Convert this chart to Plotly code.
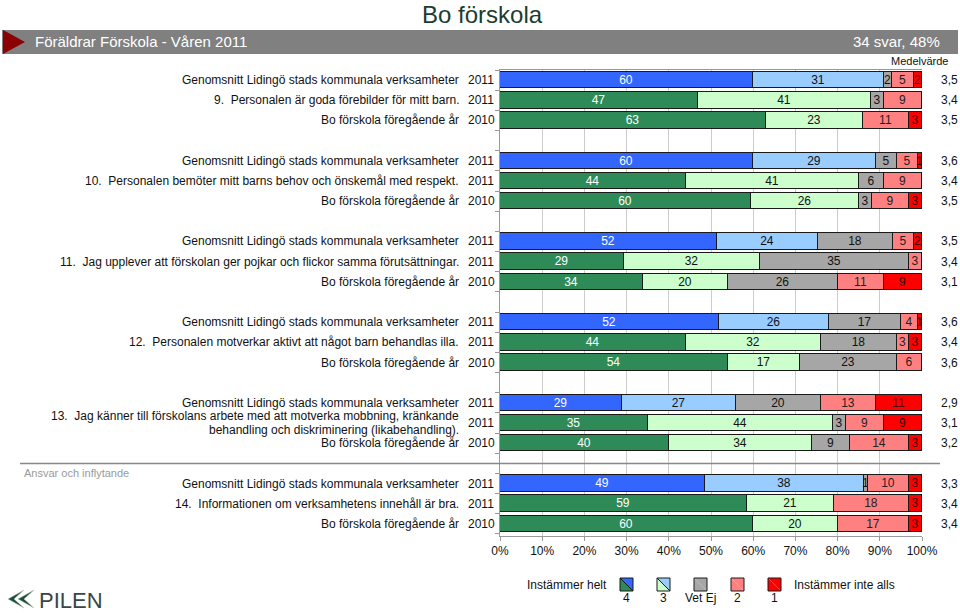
import plotly.graph_objects as go

# ---------------- data ----------------
questions = [
    "9.  Personalen är goda förebilder för mitt barn.",
    "10.  Personalen bemöter mitt barns behov och önskemål med respekt.",
    "11.  Jag upplever att förskolan ger pojkar och flickor samma förutsättningar.",
    "12.  Personalen motverkar aktivt att något barn behandlas illa.",
    "13.  Jag känner till förskolans arbete med att motverka mobbning, kränkande<br>behandling och diskriminering (likabehandling).",
    "14.  Informationen om verksamhetens innehåll är bra.",
]
label_avg = "Genomsnitt Lidingö stads kommunala verksamheter"
label_prev = "Bo förskola föregående år"
years = ["2011", "2011", "2010"]

# rows: per question -> [Genomsnitt 2011, question 2011, föregående år 2010]
s4 = [60, 47, 63, 60, 44, 60, 52, 29, 34, 52, 44, 54, 29, 35, 40, 49, 59, 60]
s3 = [31, 41, 23, 29, 41, 26, 24, 32, 20, 26, 32, 17, 27, 44, 34, 38, 21, 20]
vet = [2, 3, 0, 5, 6, 3, 18, 35, 26, 17, 18, 23, 20, 3, 9, 1, 0, 0]
s2 = [5, 9, 11, 5, 9, 9, 5, 3, 11, 4, 3, 6, 13, 9, 14, 10, 18, 17]
s1 = [2, 0, 3, 1, 0, 3, 2, 0, 9, 1, 3, 0, 11, 9, 3, 3, 3, 3]
means = ["3,5", "3,4", "3,5", "3,6", "3,4", "3,5", "3,5", "3,4", "3,1",
         "3,6", "3,4", "3,6", "2,9", "3,1", "3,2", "3,3", "3,4", "3,4"]

title_text = "Bo förskola"
banner_left = "Föräldrar Förskola - Våren 2011"
banner_right = "34 svar, 48%"
section_text = "Ansvar och inflytande"
legend_labels = ["4", "3", "Vet Ej", "2", "1"]

# ---------------- layout helpers ----------------
W, H = 960, 613
L, R, T, B = 500, 38, 70, 77
PW, PH = W - L - R, H - T - B
FONT = "Liberation Sans, Arial, sans-serif"


def px(x):
    return (x - L) / PW


def py(y):
    return (H - B - y) / PH


ypos = [g * 4 + r for g in range(len(questions)) for r in range(3)]
is_avg = [r == 0 for g in range(len(questions)) for r in range(3)]

BLUE, LBLUE = "#3366ff", "#99ccff"
GREEN, LGREEN = "#2e8b57", "#ccffcc"
GREY, PINK, RED = "#a6a6a6", "#ff8080", "#ff0000"

series = [
    (s4, [BLUE if a else GREEN for a in is_avg], "white"),
    (s3, [LBLUE if a else LGREEN for a in is_avg], "#111111"),
    (vet, [GREY] * len(vet), "#111111"),
    (s2, [PINK] * len(s2), "#222222"),
    (s1, [RED] * len(s1), "#330000"),
]

fig = go.Figure()
for vals, cols, tc in series:
    fig.add_bar(
        x=vals, y=ypos, orientation="h", width=0.82,
        marker=dict(color=cols, line=dict(color="#1a1a1a", width=1)),
        text=[str(v) if v else "" for v in vals],
        textposition="inside", insidetextanchor="middle", textangle=0,
        textfont=dict(color=tc, size=12, family=FONT),
        hoverinfo="skip", showlegend=False,
    )

ann = []
shapes = []

# row labels
for g, q in enumerate(questions):
    for r in range(3):
        y = g * 4 + r
        lab = label_avg if r == 0 else (q if r == 1 else label_prev)
        parts = lab.split("<br>")
        if len(parts) == 1:
            ann.append(dict(x=px(461), y=y, xref="paper", yref="y", text=lab,
                            xanchor="right", yanchor="middle", showarrow=False,
                            align="right", font=dict(size=12, color="#111")))
        else:
            for k, part in enumerate(parts):
                ann.append(dict(x=px(461), y=y + (-0.36 if k == 0 else 0.37), xref="paper",
                                yref="y", text=part, xanchor="right", yanchor="middle",
                                showarrow=False, font=dict(size=12, color="#111")))
        ann.append(dict(x=px(466), y=y, xref="paper", yref="y", text=years[r],
                        xanchor="left", yanchor="middle", showarrow=False,
                        font=dict(size=12, color="#111")))
        ann.append(dict(x=px(949), y=y, xref="paper", yref="y", text=means[g * 3 + r],
                        xanchor="center", yanchor="middle", showarrow=False,
                        font=dict(size=12, color="#111")))

# header
shapes.append(dict(type="rect", xref="paper", yref="paper", x0=px(2), x1=px(958),
                   y0=py(54), y1=py(30), fillcolor="#808080", line=dict(width=0)))
shapes.append(dict(type="path", xref="paper", yref="paper",
                   path=f"M {px(3)} {py(30)} L {px(3)} {py(54)} L {px(25)} {py(42)} Z",
                   fillcolor="#8b0000", line=dict(width=0)))
ann.append(dict(x=px(482), y=py(15), xref="paper", yref="paper", text=title_text,
                showarrow=False, xanchor="center", yanchor="middle",
                font=dict(size=24, color="#1a3d30")))
ann.append(dict(x=px(33), y=py(42), xref="paper", yref="paper", text=banner_left,
                showarrow=False, xanchor="left", yanchor="middle",
                font=dict(size=15, color="white")))
ann.append(dict(x=px(942), y=py(42), xref="paper", yref="paper", text=banner_right,
                showarrow=False, xanchor="right", yanchor="middle",
                font=dict(size=15, color="white")))
ann.append(dict(x=px(919), y=py(61), xref="paper", yref="paper", text="Medelvärde",
                showarrow=False, xanchor="center", yanchor="middle",
                font=dict(size=11, color="#111")))

# section separator
shapes.append(dict(type="line", xref="paper", yref="y", x0=px(20), x1=px(940),
                   y0=19, y1=19, line=dict(color="#888888", width=1.5)))
ann.append(dict(x=px(22), y=py(473), xref="paper", yref="paper", text=section_text,
                showarrow=False, xanchor="left", yanchor="middle",
                font=dict(size=11, color="#9a9a9a")))

# legend
ann.append(dict(x=px(609), y=py(585), xref="paper", yref="paper", text="Instämmer helt",
                showarrow=False, xanchor="right", yanchor="middle",
                font=dict(size=12, color="#111")))
ann.append(dict(x=px(792), y=py(585), xref="paper", yref="paper", text="Instämmer inte alls",
                showarrow=False, xanchor="left", yanchor="middle",
                font=dict(size=12, color="#111")))
icon_x = [620, 657, 694, 731, 768]
icon_cols = [(BLUE, GREEN), (LBLUE, LGREEN), (GREY, GREY), (PINK, PINK), (RED, RED)]
for x0, (cu, cl), lab in zip(icon_x, icon_cols, legend_labels):
    x1 = x0 + 13
    y0, y1 = 578, 591
    shapes.append(dict(type="path", xref="paper", yref="paper",
                       path=f"M {px(x0)} {py(y0)} L {px(x1)} {py(y0)} L {px(x1)} {py(y1)} Z",
                       fillcolor=cu, line=dict(width=0)))
    shapes.append(dict(type="path", xref="paper", yref="paper",
                       path=f"M {px(x0)} {py(y0)} L {px(x0)} {py(y1)} L {px(x1)} {py(y1)} Z",
                       fillcolor=cl, line=dict(width=0)))
    if cu != cl:
        shapes.append(dict(type="line", xref="paper", yref="paper",
                           x0=px(x0), y0=py(y0), x1=px(x1), y1=py(y1),
                           line=dict(color="#1a1a1a", width=1)))
    shapes.append(dict(type="rect", xref="paper", yref="paper",
                       x0=px(x0), x1=px(x1), y0=py(y1), y1=py(y0),
                       line=dict(color="#1a1a1a", width=1)))
    ann.append(dict(x=px(x0 + 6.5), y=py(598), xref="paper", yref="paper", text=lab,
                    showarrow=False, xanchor="center", yanchor="middle",
                    font=dict(size=12, color="#111")))

# logo
for off in (0, 10):
    shapes.append(dict(type="path", xref="paper", yref="paper",
                       path=(f"M {px(24+off)} {py(590)} L {px(8+off)} {py(599)} "
                             f"L {px(24+off)} {py(608)} L {px(14+off)} {py(599)} Z"),
                       fillcolor="#1e4d3a", line=dict(color="#b8c4c0", width=0.5)))
ann.append(dict(x=px(37), y=py(600), xref="paper", yref="paper", text="PILEN",
                showarrow=False, xanchor="left", yanchor="middle",
                font=dict(size=22, color="#3a4646")))

fig.update_layout(
    width=W, height=H,
    margin=dict(l=L, r=R, t=T, b=B),
    paper_bgcolor="white", plot_bgcolor="white",
    barmode="stack", barnorm="percent", bargap=0,
    font=dict(family=FONT, size=12, color="#111"),
    uniformtext=dict(minsize=12, mode="show"),
    annotations=ann, shapes=shapes,
    xaxis=dict(range=[0, 100], dtick=10, ticksuffix="%", showgrid=True,
               gridcolor="#cccccc", gridwidth=1, showline=True, linecolor="#999999",
               mirror=True, ticks="outside", ticklen=4, tickcolor="#999999",
               tickfont=dict(size=12, color="#111"), zeroline=False, fixedrange=True),
    yaxis=dict(range=[22.6, -0.5], showticklabels=False, showgrid=False,
               showline=True, linecolor="#999999", mirror=False, ticks="outside",
               ticklen=4, tickcolor="#999999",
               tickvals=[i - 0.5 for i in range(0, 24)], zeroline=False, fixedrange=True),
)

fig.write_html(
    "out.html",
    config={"displayModeBar": False},
    post_script="document.body.style.margin='0px';document.body.style.overflow='hidden';",
)
